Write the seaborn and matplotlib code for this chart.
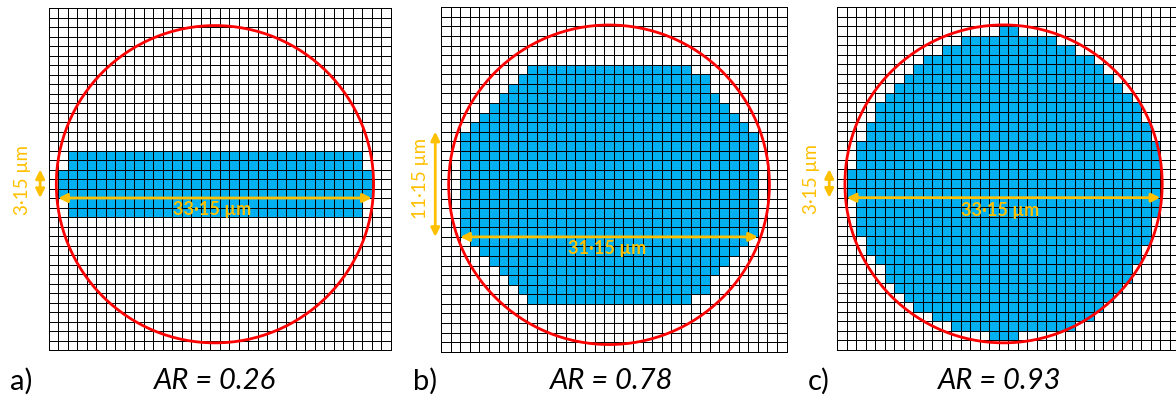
import numpy as np
import matplotlib
matplotlib.use("Agg")
import matplotlib.pyplot as plt
from matplotlib.colors import ListedColormap
from matplotlib.patches import Circle
import seaborn as sns

sns.set_theme(style="white")
plt.rcParams["font.family"] = ["Lato", "DejaVu Sans"]

N_CELLS = 36

# Filled cells per row: row index, first column, last column (inclusive)
rows_a = [15, 16, 17, 18, 19, 20, 21]
left_a = [2, 2, 1, 1, 1, 2, 2]
right_a = [32, 32, 33, 33, 33, 32, 32]

rows_b = list(range(6, 31))
left_b = [9, 8, 7, 6, 5, 4, 3, 2, 2, 2, 2, 2, 2, 2, 2, 2, 2, 2, 3, 4, 5, 6, 7, 8, 9]
right_b = [25, 27, 27, 28, 29, 30, 31, 32, 32, 32, 32, 32, 32, 32, 32, 32, 32, 32, 31, 30, 29, 28, 27, 27, 25]

rows_c = list(range(2, 35))
left_c = [17, 13, 11, 9, 8, 7, 6, 5, 4, 4, 3, 3, 2, 2, 2, 1, 1, 1, 2, 2, 2, 2, 3, 3, 4, 5, 5, 6, 7, 8, 10, 12, 16]
right_c = [18, 22, 24, 26, 27, 28, 29, 30, 31, 31, 32, 32, 33, 33, 33, 33, 33, 33, 33, 33, 32, 32, 32, 31, 31, 30, 30, 29, 28, 27, 26, 24, 18]

panel_letters = ["a)", "b)", "c)"]
ar_labels = ["AR = 0.26", "AR = 0.78", "AR = 0.93"]
width_labels = ["33·15 µm", "31·15 µm", "33·15 µm"]
height_labels = ["3·15 µm", "11·15 µm", "3·15 µm"]

# Dimension arrows in cell units: (x0, x1, y) horizontal, (x, y0, y1) vertical
h_arrows = [(1, 34, 20), (2, 33, 24), (1, 34, 20)]
v_arrows = [(-0.9, 17, 20), (-0.6, 13, 24), (-0.85, 17, 20)]
width_label_pos = [(17.2, 21.2), (17.3, 25.2), (17.1, 21.3)]
height_label_pos = [(-2.8, 18.1), (-2.1, 17.9), (-2.7, 18.0)]

BLUE = "#00B0F0"
RED = "#FF0000"
GOLD = "#FFC000"

W, H = 1176, 396
fig = plt.figure(figsize=(W / 100, H / 100), dpi=100)

boxes = [
    (48.7, 8.0, 342.0, 342.0),
    (441.0, 7.3, 345.7, 344.4),
    (837.3, 7.3, 342.0, 342.7),
]
letter_x = [10, 413, 808]
ar_x = [215, 612, 1000]


def build_mask(rows, left, right):
    m = np.zeros((N_CELLS, N_CELLS))
    for r, l, rt in zip(rows, left, right):
        m[r, l:rt + 1] = 1
    return m


masks = [
    build_mask(rows_a, left_a, right_a),
    build_mask(rows_b, left_b, right_b),
    build_mask(rows_c, left_c, right_c),
]

for i, mask in enumerate(masks):
    x0, y0, w, h = boxes[i]
    ax = fig.add_axes([x0 / W, (H - y0 - h) / H, w / W, h / H])
    sns.heatmap(mask, ax=ax, cmap=ListedColormap(["white", BLUE]), vmin=0, vmax=1,
                cbar=False, linewidths=0.7, linecolor="#000000",
                xticklabels=False, yticklabels=False)
    for coll in ax.collections:
        coll.set_clip_on(False)
    ax.set_position([x0 / W, (H - y0 - h) / H, w / W, h / H])

    ax.add_patch(Circle((17.5, 18.55), 16.7, fill=False, ec=RED, lw=2.0, zorder=5))

    hx0, hx1, hy = h_arrows[i]
    ax.annotate("", xy=(hx0, hy), xytext=(hx1, hy),
                arrowprops=dict(arrowstyle="<|-|>", color=GOLD, lw=2.0,
                                mutation_scale=13, shrinkA=0, shrinkB=0),
                annotation_clip=False, zorder=6)
    vx, vy0, vy1 = v_arrows[i]
    ax.annotate("", xy=(vx, vy0), xytext=(vx, vy1),
                arrowprops=dict(arrowstyle="<|-|>", color=GOLD, lw=2.0,
                                mutation_scale=13, shrinkA=0, shrinkB=0),
                annotation_clip=False, zorder=6)

    tx, ty = width_label_pos[i]
    ax.text(tx, ty, width_labels[i], color=GOLD, fontsize=13, fontweight="bold",
            ha="center", va="center", zorder=7)
    tx, ty = height_label_pos[i]
    ax.text(tx, ty, height_labels[i], color=GOLD, fontsize=13.5, rotation=90,
            ha="center", va="center", clip_on=False, zorder=7)

    fig.text(letter_x[i] / W, 1 - 381 / H, panel_letters[i], fontsize=21,
             ha="left", va="center", color="black")
    fig.text(ar_x[i] / W, 1 - 381 / H, ar_labels[i], fontsize=21, style="italic",
             ha="center", va="center", color="black")

fig.savefig("out.png", dpi=100)
